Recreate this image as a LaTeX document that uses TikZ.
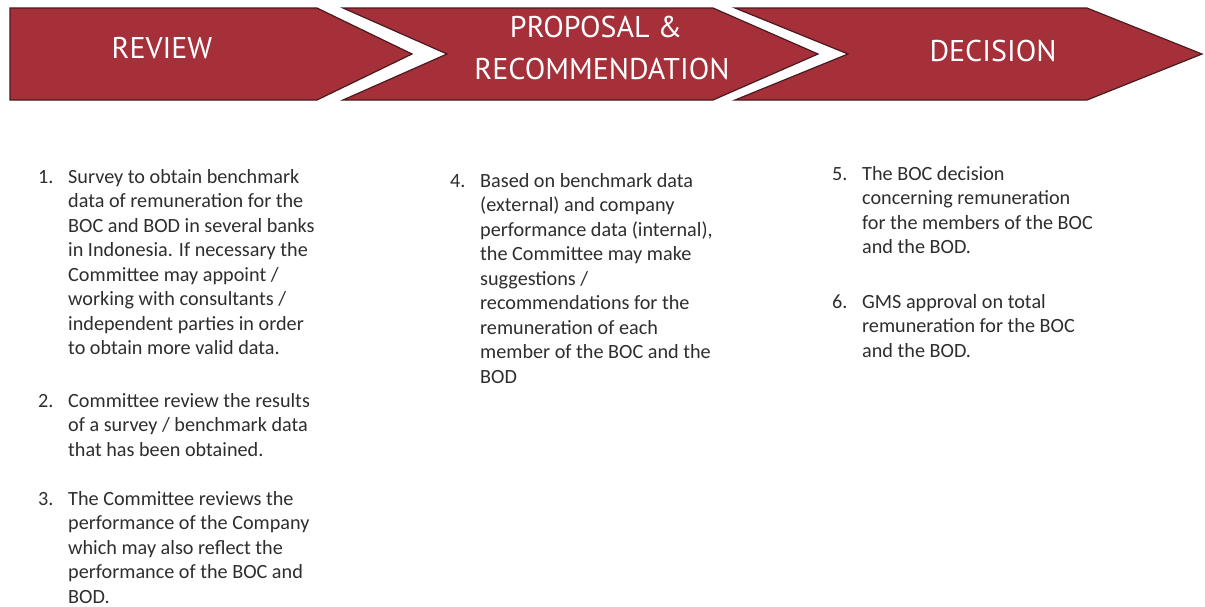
\documentclass[tikz,border=0pt]{standalone}
\usepackage{fontspec}
\setmainfont{Carlito}
\newfontfamily\headfont{PT Sans}
\definecolor{chev}{HTML}{A5303A}
\definecolor{chevline}{HTML}{4A1A1E}
\definecolor{bodytext}{HTML}{2E2E2E}
\begin{document}
\begin{tikzpicture}[x=1pt,y=-1pt,
  chevron/.style={fill=chev,draw=chevline,line width=1.2pt,line join=miter},
  head/.style={text=white,font=\headfont\fontsize{30}{31}\selectfont,align=center,inner sep=0pt},
  body/.style={text=bodytext,font=\fontsize{20.2}{24.5}\selectfont,align=left,anchor=base west,inner sep=0pt},
  num/.style={text=bodytext,font=\fontsize{20.2}{24.5}\selectfont,anchor=base west,inner sep=0pt}]
\useasboundingbox (0,0) rectangle (1205,606);
\fill[white] (0,0) rectangle (1205,606);
% chevrons
\draw[chevron] (10,8) -- (317,8) -- (412,54) -- (317,100) -- (10,100) -- cycle;
\draw[chevron] (343,8) -- (713,8) -- (818,54) -- (713,100) -- (343,100) -- (447,54) -- cycle;
\draw[chevron] (735,8) -- (1087,8) -- (1202,54) -- (1087,100) -- (735,100) -- (848,54) -- cycle;
% headers
\node[head,anchor=base] (h1) at (162,58) {REVIEW};
\node[head,anchor=base] (h2a) at (596,37) {PROPOSAL \&};
\node[head,anchor=base] (h2b) at (602,79) {RECOMMENDATION};
\node[head,anchor=base] (h3) at (993,61) {DECISION};
% items (anchor is the baseline of the last line)
\node[num] (n1) at (38,183) {1.};
\node[body] (t1) at (68,354.5) {Survey to obtain benchmark\\data of remuneration for the\\BOC and BOD in several banks\\in Indonesia. If necessary the\\Committee may appoint /\\working with consultants /\\independent parties in order\\to obtain more valid data.};
\node[num] (n2) at (38,407) {2.};
\node[body] (t2) at (68,456) {Committee review the results\\of a survey / benchmark data\\that has been obtained.};
\node[num] (n3) at (38,505) {3.};
\node[body] (t3) at (68,603) {The Committee reviews the\\performance of the Company\\which may also reflect the\\performance of the BOC and\\BOD.};
\node[num] (n4) at (450,187) {4.};
\node[body] (t4) at (480,383) {Based on benchmark data\\(external) and company\\performance data (internal),\\the Committee may make\\suggestions /\\recommendations for the\\remuneration of each\\member of the BOC and the\\BOD};
\node[num] (n5) at (832,180) {5.};
\node[body] (t5) at (862,253.5) {The BOC decision\\concerning remuneration\\for the members of the BOC\\and the BOD.};
\node[num] (n6) at (832,308) {6.};
\node[body] (t6) at (862,357) {GMS approval on total\\remuneration for the BOC\\and the BOD.};
\end{tikzpicture}
\end{document}
